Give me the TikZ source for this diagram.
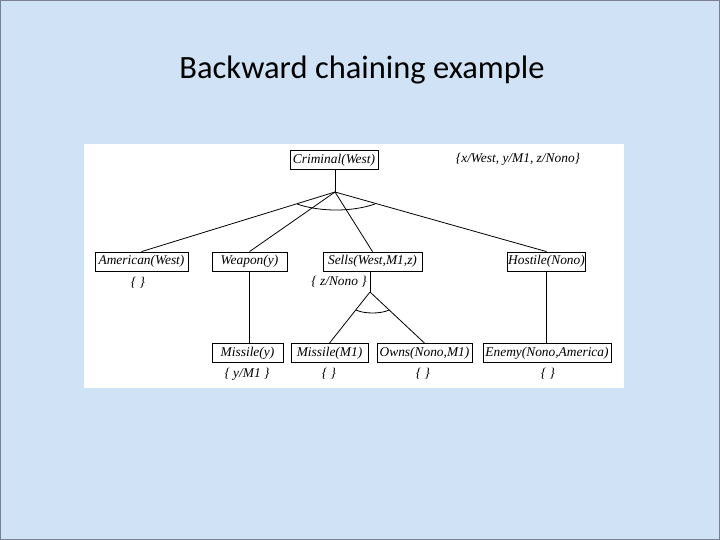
\documentclass[tikz,border=0pt]{standalone}
\usepackage{fontspec}
\setmainfont{Liberation Serif}
\newfontfamily\titlefont{Carlito}
\definecolor{bgblue}{RGB}{208,226,245}
\definecolor{frame}{RGB}{120,130,145}
\begin{document}
\begin{tikzpicture}[x=1pt,y=-1pt,
  box/.style={draw, line width=0.8pt, inner sep=0pt, minimum height=19pt, font=\fontsize{13.4}{15}\selectfont\itshape},
  lbl/.style={inner sep=0pt, font=\fontsize{13.4}{15}\selectfont\itshape},
  edge/.style={line width=0.8pt}]
\useasboundingbox (0,0) rectangle (720,540);
\fill[bgblue] (0,0) rectangle (720,540);
\draw[frame, line width=1.2pt] (0.6,0.6) rectangle (719.4,539.4);
\node[font=\titlefont\fontsize{32.5}{38}\selectfont, anchor=base] (title) at (362,79) {Backward chaining example};
\fill[white] (84,144) rectangle (624,388);
% nodes
\node[box, minimum width=88pt] (crim) at (334,160) {Criminal(West)};
\node[lbl] (subst) at (518,159) {\{x/West, y/M1, z/Nono\}};
\node[box, minimum width=93pt] (amer) at (141.5,261.5) {American(West)};
\node[box, minimum width=75pt] (weap) at (249.5,261.5) {Weapon(y)};
\node[box, minimum width=99pt] (sells) at (372.5,261.5) {Sells(West,M1,z)};
\node[box, minimum width=78pt] (host) at (546.5,261.5) {Hostile(Nono)};
\node[lbl] (l1) at (138,283) {\{ \}};
\node[lbl, anchor=east] (l2) at (367,282) {\{ z/Nono \}};
\node[box, minimum width=71pt] (missy) at (247.5,353) {Missile(y)};
\node[box, minimum width=77pt] (missm) at (329.5,353) {Missile(M1)};
\node[box, minimum width=95pt] (owns) at (424.5,353) {Owns(Nono,M1)};
\node[box, minimum width=128pt] (enemy) at (547,353) {Enemy(Nono,America)};
\node[lbl] (l3) at (247,374) {\{ y/M1 \}};
\node[lbl] (l4) at (329,374) {\{ \}};
\node[lbl] (l5) at (423,374) {\{ \}};
\node[lbl] (l6) at (548,374) {\{ \}};
% connectors
\coordinate (b1) at (335,192);
\coordinate (b2) at (370,292);
\draw[edge] (crim.south -| b1) -- (b1);
\draw[edge] (b1) -- (amer.north);
\draw[edge] (b1) -- (weap.north);
\draw[edge] (b1) -- (sells.north);
\draw[edge] (b1) -- (host.north);
\draw[edge] (297,204) .. controls (320,212) and (352,212) .. (375,204);
\draw[edge] (sells.south -| b2) -- (b2);
\draw[edge] (b2) -- (missm.north);
\draw[edge] (b2) -- (owns.north);
\draw[edge] (356,310) .. controls (364,314) and (381,314) .. (389,310);
\draw[edge] (weap.south) -- (weap.south |- missy.north);
\draw[edge] (host.south) -- (host.south |- enemy.north);
\end{tikzpicture}
\end{document}
